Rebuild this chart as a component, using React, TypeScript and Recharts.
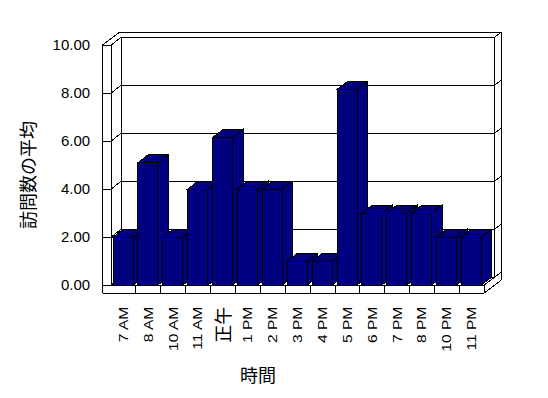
import React from 'react';
import { BarChart, Bar, XAxis, YAxis, CartesianGrid, ReferenceArea, Label } from 'recharts';

// ---- data ----
const hours = ['7 AM', '8 AM', '10 AM', '11 AM', '正午', '1 PM', '2 PM', '3 PM', '4 PM', '5 PM', '6 PM', '7 PM', '8 PM', '10 PM', '11 PM'];
const avgVisits = [2, 5.1, 2, 4, 6.15, 4, 4, 1, 1, 8.15, 3, 3, 3, 2, 2];
const yTicks = [0, 2, 4, 6, 8, 10];
const xTitle = '時間';
const yTitle = '訪問数の平均';

const data = hours.map((h, i) => ({ hour: h, avg: avgVisits[i] }));

// ---- 3D geometry (styling) ----
const DX = 10.5; // depth offset x
const DY = 8; // depth offset y (upwards)
const OX = 16.7; // outer wall depth x
const OY = 12.7; // outer wall depth y
const LW = 8.5; // left wall thickness
const FL = 8; // floor thickness
const NAVY = '#000080';
const INK = '#000000';

const ln = (x1: number, y1: number, x2: number, y2: number, k: string) => (
  <line key={k} x1={x1} y1={y1} x2={x2} y2={y2} stroke={INK} strokeWidth={1} shapeRendering="crispEdges" />
);

const GridLine3D = (p: any) => {
  const { x1, y1, x2 } = p;
  const y = y1;
  return (
    <g key={p.key ?? `g-${p.index}`}>
      {ln(x1 - LW, y, x1, y, 'a')}
      {ln(x1, y, x1 + DX, y - DY, 'b')}
      {ln(x1 + DX, y - DY, x2 + DX, y - DY, 'c')}
      {ln(x2 + DX, y - DY, x2 + OX, y - OY, 'd')}
    </g>
  );
};

const Frame3D = (p: any) => {
  const L = p.x;
  const T = p.y;
  const R = p.x + p.width;
  const B = p.y + p.height;
  const n = hours.length;
  const band = p.width / n;
  const ticks = [];
  for (let i = 1; i < n; i++) {
    const xx = L + band * i;
    ticks.push(ln(xx, B, xx, B + FL, `t${i}`));
  }
  return (
    <g>
      {ln(L - LW, T, L - LW, B + FL, 'f1')}
      {ln(L, T, L, B, 'f2')}
      {ln(L - LW, B + FL, R, B + FL, 'f3')}
      {ln(L, B, R, B, 'f4')}
      {ln(R, B, R, B + FL, 'f5')}
      {ln(R, B + FL, R + OX, B + FL - OY, 'f6')}
      {ln(R, B, R + DX, B - DY, 'f7')}
      {ln(L + DX, T - DY, L + DX, B - DY, 'f8')}
      {ln(R + DX, T - DY, R + DX, B - DY, 'f9')}
      {ln(R + OX, T - OY, R + OX, B + FL - OY, 'f10')}
      {ln(L - LW, T, L - LW + OX, T - OY, 'f11')}
      {ln(L - LW + OX, T - OY, R + OX, T - OY, 'f12')}
      {ln(L, T, L + DX, T - DY, 'f13')}
      {ln(L + DX, T - DY, R + DX, T - DY, 'f14')}
      {ln(R + DX, T - DY, R + OX, T - OY, 'f15')}
      {ln(L, B, L + DX, B - DY, 'f16')}
      {ln(L + DX, B - DY, R + DX, B - DY, 'f17')}
      {ticks}
    </g>
  );
};

const Bar3D = (p: any) => {
  const { x, y, width, height } = p;
  if (!height || height <= 0) return <g />;
  const side = `${x + width},${y} ${x + width + DX},${y - DY} ${x + width + DX},${y + height - DY} ${x + width},${y + height}`;
  const top = `${x},${y} ${x + width},${y} ${x + width + DX},${y - DY} ${x + DX},${y - DY}`;
  return (
    <g>
      <polygon points={side} fill={NAVY} stroke={INK} strokeWidth={1} shapeRendering="crispEdges" />
      <polygon points={top} fill={NAVY} stroke={INK} strokeWidth={1} shapeRendering="crispEdges" />
      <rect x={x} y={y} width={width} height={height} fill={NAVY} stroke={INK} strokeWidth={1} shapeRendering="crispEdges" />
    </g>
  );
};

const XTick = (p: any) => {
  const { x, y, payload } = p;
  const v = String(payload.value);
  const cjk = /[^\x00-\x7f]/.test(v);
  if (cjk) {
    return (
      <text
        transform={`translate(${x + 6.5},${y + 21.7}) rotate(-90)`}
        textAnchor="end"
        fontSize={18}
        fontFamily="'Noto Sans CJK JP', sans-serif"
        fill={INK}
      >
        {v}
      </text>
    );
  }
  return (
    <text
      transform={`translate(${x + 4.3},${y + 21.7}) rotate(-90) scale(1.3,1)`}
      textAnchor="end"
      fontSize={12}
      fontFamily="'Liberation Sans', Arial, sans-serif"
      fill={INK}
    >
      {v}
    </text>
  );
};

const YTick = (p: any) => {
  const { x, y, payload } = p;
  return (
    <text x={x} y={y} dy="0.36em" textAnchor="end" fontSize={15} fontFamily="'Liberation Sans', Arial, sans-serif" fill={INK}>
      {Number(payload.value).toFixed(2)}
    </text>
  );
};

const XTitle = () => (
  <text x={258} y={381.5} textAnchor="middle" fontSize={18} fontFamily="'Noto Sans CJK JP', sans-serif" fill={INK}>
    {xTitle}
  </text>
);

const YTitle = () => (
  <text transform="translate(34.5,175) rotate(-90)" textAnchor="middle" fontSize={18} fontFamily="'Noto Sans CJK JP', sans-serif" fill={INK}>
    {yTitle}
  </text>
);

export default function App() {
  return (
    <div style={{ position: 'absolute', left: 0, top: 0, width: 548, height: 398, background: '#ffffff' }}>
      <BarChart
        width={548}
        height={398}
        data={data}
        margin={{ top: 45, right: 63.7, bottom: 73, left: 51.1 }}
        barSize={20}
      >
        <CartesianGrid vertical={false} horizontal={(p: any) => <GridLine3D {...p} />} />
        <ReferenceArea y1={0} y2={10} ifOverflow="visible" shape={(p: any) => <Frame3D {...p} />} />
        <XAxis
          dataKey="hour"
          type="category"
          axisLine={false}
          tickLine={false}
          tickSize={0}
          tickMargin={0}
          height={40}
          interval={0}
          tick={(p: any) => <XTick {...p} />}
          label={<Label content={XTitle} />}
        />
        <YAxis
          type="number"
          domain={[0, 10]}
          ticks={yTicks}
          width={60}
          axisLine={false}
          tickLine={false}
          tickSize={0}
          tickMargin={21}
          tick={(p: any) => <YTick {...p} />}
          label={<Label content={YTitle} />}
        />
        <Bar dataKey="avg" isAnimationActive={false} shape={(p: any) => <Bar3D {...p} />} />
      </BarChart>
    </div>
  );
}
